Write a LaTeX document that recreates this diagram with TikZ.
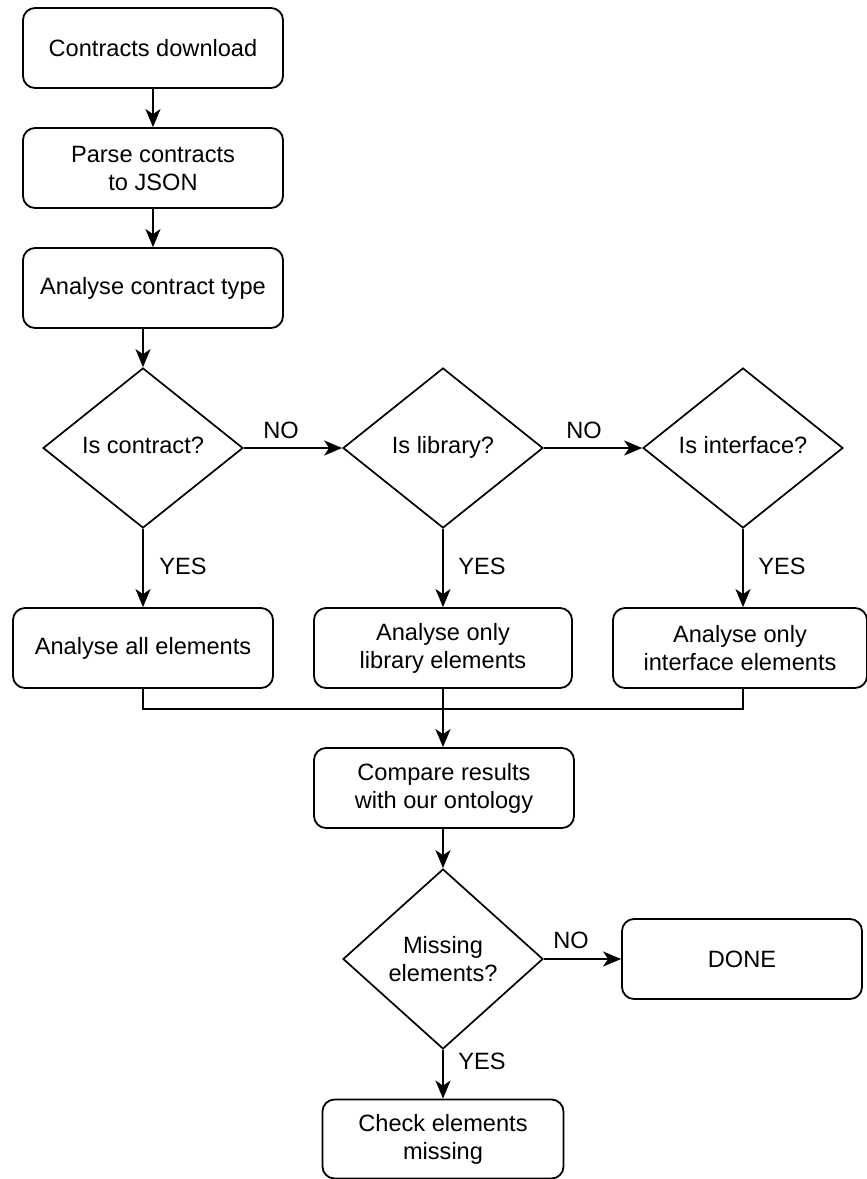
\documentclass[tikz,border=0pt]{standalone}
\usepackage{fontspec}
\setmainfont{Liberation Sans}
\usetikzlibrary{shapes.geometric,arrows.meta}
\begin{document}
\begin{tikzpicture}[x=1pt,y=-1pt,
  font=\fontsize{23.6}{28}\selectfont,
  box/.style={draw, rounded corners=12pt, line width=1.8pt,
    minimum width=260pt, minimum height=80pt, align=center, inner sep=0pt},
  decision/.style={draw, diamond, line width=1.7pt, aspect=1.25,
    minimum width=200pt, minimum height=160pt, align=center, inner sep=0pt},
  flow/.style={line width=1.8pt, -{Stealth[length=18pt,width=15pt,inset=5pt]}},
  link/.style={line width=1.8pt},
  lbl/.style={inner sep=0pt}]
\useasboundingbox (0,0) rectangle (867,1179);

% preparation steps
\node[box] (dl)    at (153,48)  {Contracts download};
\node[box] (parse) at (153,168) {Parse contracts\\to JSON};
\node[box] (type)  at (153,288) {Analyse contract type};

% type decisions
\node[decision] (iscon) at (143,448) {\strut Is contract?};
\node[decision] (islib) at (443,448) {\strut Is library?};
\node[decision] (isint) at (743,448) {\strut Is interface?};

% analysis variants
\node[box, minimum width=260pt] (allel) at (143,648) {Analyse all elements};
\node[box, minimum width=258pt] (libel) at (443,648) {Analyse only\\library elements};
\node[box, minimum width=254pt] (intel) at (740,648) {Analyse only\\interface elements};

% comparison and outcome
\node[box] (cmp)  at (444,788) {Compare results\\with our ontology};
\node[decision, minimum height=180pt, aspect=1.1] (miss) at (443,959) {Missing\\elements?};
\node[box, minimum width=240pt] (done)  at (742,959)  {DONE};
\node[box, minimum width=241pt, minimum height=79pt] (check) at (443,1139) {Check elements\\missing};

% connectors
\draw[flow] (dl) -- (parse);
\draw[flow] (parse) -- (type);
\draw[flow] (type.south -| iscon.north) -- (iscon.north);
\draw[flow] (iscon.east) -- (islib.west);
\draw[flow] (islib.east) -- (isint.west);
\draw[flow] (iscon.south) -- (allel.north);
\draw[flow] (islib.south) -- (libel.north);
\draw[flow] (isint.south) -- (intel.north -| isint.south);
\draw[link] (allel.south) -- ++(0,20) -| (intel.south -| isint.south);
\draw[flow] (libel.south) -- (cmp.north -| libel.south);
\draw[flow] (cmp.south -| miss.north) -- (miss.north);
\draw[flow] (miss.east) -- (done.west);
\draw[flow] (miss.south) -- (check.north);

% branch labels
\node[lbl] (no1)  at (281,430)  {NO};
\node[lbl] (no2)  at (584,430)  {NO};
\node[lbl] (yes1) at (183,566)  {YES};
\node[lbl] (yes2) at (482,566)  {YES};
\node[lbl] (yes3) at (782,566)  {YES};
\node[lbl] (no3)  at (571,940)  {NO};
\node[lbl] (yes4) at (482,1061) {YES};
\end{tikzpicture}
\end{document}
